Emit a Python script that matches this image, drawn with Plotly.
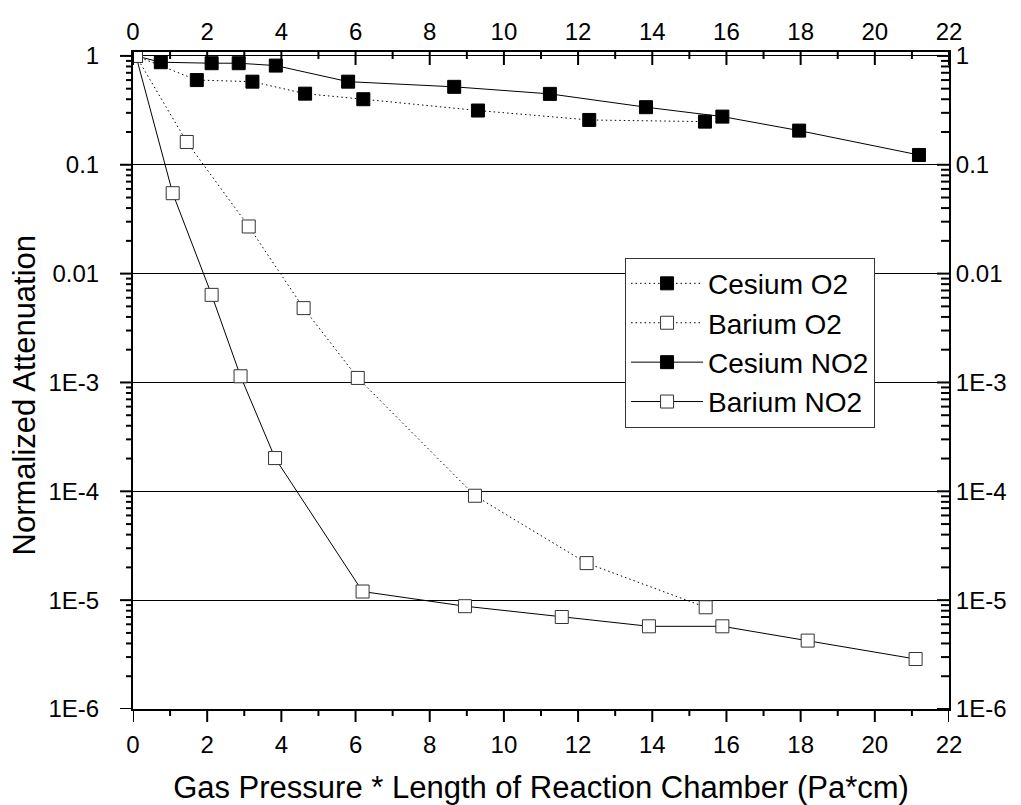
import plotly.graph_objects as go

# Data
cs_o2_x = [0.08, 1.72, 3.22, 4.64, 6.21, 9.30, 12.30, 15.42]
cs_o2_y = [1.0, 0.60, 0.58, 0.45, 0.40, 0.315, 0.258, 0.249]

ba_o2_x = [0.08, 1.45, 3.12, 4.60, 6.06, 9.22, 12.23, 15.44]
ba_o2_y = [1.0, 0.162, 0.0271, 0.00482, 0.0011, 9.1e-5, 2.19e-5, 8.6e-6]

cs_no2_x = [0.08, 0.75, 2.12, 2.85, 3.85, 5.80, 8.66, 11.24, 13.83, 15.89, 17.96, 21.19]
cs_no2_y = [1.0, 0.875, 0.857, 0.857, 0.815, 0.58, 0.52, 0.448, 0.338, 0.277, 0.206, 0.123]

ba_no2_x = [0.08, 1.07, 2.12, 2.90, 3.83, 6.19, 8.95, 11.56, 13.91, 15.89, 18.19, 21.10]
ba_no2_y = [1.0, 0.0548, 0.00638, 0.00114, 2.02e-4, 1.2e-5, 8.8e-6, 7.0e-6, 5.75e-6, 5.75e-6, 4.25e-6, 2.88e-6]

y_tickvals = [1, 0.1, 0.01, 1e-3, 1e-4, 1e-5, 1e-6]
y_ticktext = ["1", "0.1", "0.01", "1E-3", "1E-4", "1E-5", "1E-6"]
y_minor = [m * 10.0 ** e for e in range(-6, 0) for m in range(2, 10)]
x_tickvals = list(range(0, 23, 2))
x_minor = list(range(1, 22, 2))

FONT = "Liberation Sans, Arial, sans-serif"
DOT = "1.5px,3px"
CLEAR = "rgba(0,0,0,0)"

yr = [-6, 0.036]
xr = [0, 22]
TICKFS = 24

fig = go.Figure()

def add(x, y, name, filled, dash):
    fig.add_trace(go.Scatter(
        x=x, y=y, name=name, mode="lines+markers",
        line=dict(color="black", width=1, dash=dash),
        marker=dict(symbol="square", size=13,
                    color="black" if filled else "white",
                    line=dict(color="black" if filled else "#333333", width=1)),
    ))

add(cs_o2_x, cs_o2_y, "Cesium O2", True, DOT)
add(ba_o2_x, ba_o2_y, "Barium O2", False, DOT)
add(cs_no2_x, cs_no2_y, "Cesium NO2", True, "solid")
add(ba_no2_x, ba_no2_y, "Barium NO2", False, "solid")

# dummy trace so mirrored axes get drawn
fig.add_trace(go.Scatter(x=[None], y=[None], xaxis="x2", yaxis="y2",
                         showlegend=False, hoverinfo="skip"))

# tick marks as pixel-sized line shapes anchored on the axes
shapes = []
TK = dict(color="black", width=2)

def xtick(v, edge, length):
    # edge 0 = bottom (outside, downward), 1 = top (inside, downward)
    shapes.append(dict(type="line", xref="x", yref="paper", ysizemode="pixel",
                       yanchor=edge, x0=v, x1=v, y0=0, y1=-length,
                       line=TK, layer="above"))

def ytick(v, edge, length):
    # edge 0 = left (outside, leftward), 1 = right (inside, leftward)
    shapes.append(dict(type="line", xref="paper", yref="y", xsizemode="pixel",
                       xanchor=edge, x0=0, x1=-length, y0=v, y1=v,
                       line=TK, layer="above"))

for v in x_tickvals:
    xtick(v, 0, 13)
    xtick(v, 1, 13)
for v in x_minor:
    xtick(v, 0, 7)
    xtick(v, 1, 7)
for v in y_tickvals:
    ytick(v, 0, 13)
    ytick(v, 1, 12)
for v in y_minor:
    ytick(v, 0, 7)
    ytick(v, 1, 8)

common = dict(showline=True, linewidth=2, linecolor="black", zeroline=False,
              tickcolor=CLEAR, tickwidth=2, showgrid=False,
              tickfont=dict(size=TICKFS, color="black"))

fig.update_layout(
    template="none",
    width=1021, height=805,
    margin=dict(l=133, r=72, t=52, b=96),
    paper_bgcolor="white", plot_bgcolor="white",
    font=dict(family=FONT, color="black", size=TICKFS),
    showlegend=True,
    legend=dict(x=0.603, y=0.687, xanchor="left", yanchor="top",
                bgcolor="white", bordercolor="#333333", borderwidth=1,
                font=dict(family=FONT, size=28, color="black"),
                itemwidth=72, tracegroupgap=0),
    xaxis=dict(range=xr, tickmode="array", tickvals=x_tickvals, ticks="outside",
               ticklen=13,
               title=dict(text="Gas Pressure * Length of Reaction Chamber (Pa*cm)",
                          font=dict(size=31)),
               **common),
    xaxis2=dict(range=xr, overlaying="x", side="top", anchor="y",
                tickmode="array", tickvals=x_tickvals, ticks="inside", ticklen=13,
                **common),
    yaxis=dict(type="log", range=yr, tickmode="array", tickvals=y_tickvals,
               ticktext=y_ticktext, ticks="outside", ticklen=27,
               **{**common, "showgrid": True, "gridcolor": "black", "gridwidth": 1}),
    yaxis2=dict(type="log", range=yr, overlaying="y", side="right", anchor="x",
                tickmode="array", tickvals=y_tickvals, ticktext=y_ticktext,
                ticks="inside", ticklen=12, **common),
    shapes=shapes,
    annotations=[dict(text="Normalized Attenuation", textangle=-90,
                      xref="paper", yref="paper", x=-0.133, y=0.478,
                      xanchor="center", yanchor="middle", showarrow=False,
                      font=dict(family=FONT, size=31, color="black"))],
)

fig.write_html("out.html")
